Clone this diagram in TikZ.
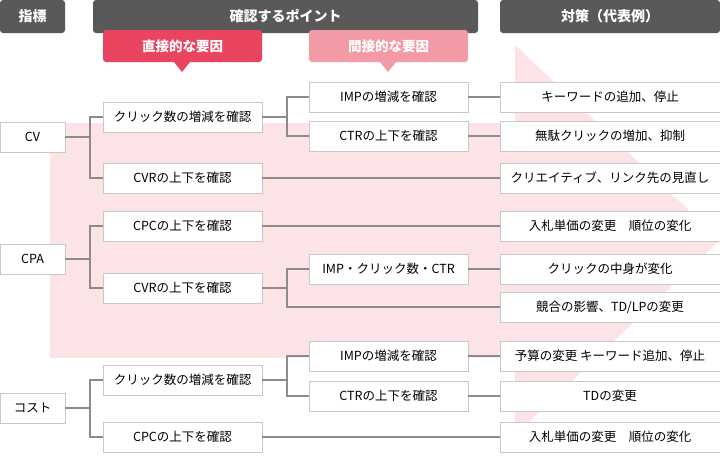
\documentclass[tikz,border=0pt]{standalone}
\usepackage{fontspec}
\setmainfont{Noto Sans CJK JP}
\usetikzlibrary{positioning}
\definecolor{headgray}{HTML}{595959}
\definecolor{directred}{HTML}{E94560}
\definecolor{indirectpink}{HTML}{F29AA5}
\definecolor{bandpink}{HTML}{FBE3E6}
\definecolor{linegray}{HTML}{8C8C8C}
\definecolor{boxline}{HTML}{C8C8C8}

\begin{document}
\begin{tikzpicture}[
  x=1pt, y=-1pt,
  head/.style={fill=headgray, rounded corners=3pt, text=white, font=\bfseries\fontsize{14}{16}\selectfont, inner sep=0pt},
  callout/.style={rounded corners=3pt, text=white, font=\bfseries\fontsize{13.5}{15}\selectfont, inner sep=0pt},
  item/.style={draw=boxline, fill=white, minimum height=30pt, inner sep=0pt, font=\fontsize{12.5}{14}\selectfont},
  keybox/.style={item, minimum width=65pt},
  checkbox/.style={item, minimum width=159pt},
  actbox/.style={item, minimum width=220pt},
  link/.style={draw=linegray, line width=1.2pt}
  ]

  \path[use as bounding box] (0,0) rectangle (720,464);

  % background arrow
  \fill[bandpink] (50,123) rectangle (515,358);
  \fill[bandpink] (515,45) -- (720,240) -- (515,435) -- cycle;

  % headers
  \node[head, minimum width=65pt, minimum height=33pt] (hkey) at (32.5,16.5) {指標};
  \node[head, minimum width=385pt, minimum height=33pt] (hcheck) at (285.5,16.5) {確認するポイント};
  \node[head, minimum width=220pt, minimum height=33pt] (hact) at (610,16.5) {対策（代表例）};

  % callouts
  \fill[directred, rounded corners=3pt] (103,30) rectangle (262,62);
  \fill[directred] (174,62) -- (182,72) -- (190,62) -- cycle;
  \node[callout] (direct) at (182.5,46) {直接的な要因};
  \fill[indirectpink, rounded corners=3pt] (309,30) rectangle (468,62);
  \fill[indirectpink] (380,62) -- (388,72) -- (396,62) -- cycle;
  \node[callout] (indirect) at (388.5,46) {間接的な要因};

  % indicators
  \node[keybox] (cv) at (32.5,137) {CV};
  \node[keybox] (cpa) at (32.5,259) {CPA};
  \node[keybox] (cost) at (32.5,408) {コスト};

  % direct factors
  \node[checkbox] (cvclick) at (182.5,117) {クリック数の増減を確認};
  \node[checkbox] (cvcvr) at (182.5,178) {CVRの上下を確認};
  \node[checkbox] (cpacpc) at (182.5,226) {CPCの上下を確認};
  \node[checkbox] (cpacvr) at (182.5,288) {CVRの上下を確認};
  \node[checkbox] (costclick) at (182.5,380) {クリック数の増減を確認};
  \node[checkbox] (costcpc) at (182.5,437) {CPCの上下を確認};

  % indirect factors
  \node[checkbox] (cvimp) at (388.5,97) {IMPの増減を確認};
  \node[checkbox] (cvctr) at (388.5,136) {CTRの上下を確認};
  \node[checkbox] (cpamix) at (388.5,269) {IMP・クリック数・CTR};
  \node[checkbox] (costimp) at (388.5,356) {IMPの増減を確認};
  \node[checkbox] (costctr) at (388.5,396) {CTRの上下を確認};

  % actions
  \node[actbox] (act1) at (610,97) {キーワードの追加、停止};
  \node[actbox] (act2) at (610,136) {無駄クリックの増加、抑制};
  \node[actbox] (act3) at (610,178) {クリエイティブ、リンク先の見直し};
  \node[actbox] (act4) at (610,226) {入札単価の変更\quad 順位の変化};
  \node[actbox] (act5) at (610,269) {クリックの中身が変化};
  \node[actbox] (act6) at (610,307) {競合の影響、TD/LPの変更};
  \node[actbox] (act7) at (610,356) {予算の変更 キーワード追加、停止};
  \node[actbox] (act8) at (610,396) {TDの変更};
  \node[actbox] (act9) at (610,437) {入札単価の変更\quad 順位の変化};

  % connectors
  \draw[link] (cv.east) -- (90,137);
  \draw[link] (cvclick.west) -| (90,137) |- (cvcvr.west);
  \draw[link] (cpa.east) -- (90,259);
  \draw[link] (cpacpc.west) -| (90,259) |- (cpacvr.west);
  \draw[link] (cost.east) -- (90,408);
  \draw[link] (costclick.west) -| (90,408) |- (costcpc.west);

  \draw[link] (cvclick.east) -- (287,117);
  \draw[link] (cvimp.west) -| (287,117) |- (cvctr.west);
  \draw[link] (cpacvr.east) -- (287,288);
  \draw[link] (cpamix.west) -| (287,288) |- (act6.west);
  \draw[link] (costclick.east) -- (287,380);
  \draw[link] (costimp.west) -| (287,380) |- (costctr.west);

  \draw[link] (cvimp) -- (act1);
  \draw[link] (cvctr) -- (act2);
  \draw[link] (cvcvr) -- (act3);
  \draw[link] (cpacpc) -- (act4);
  \draw[link] (cpamix) -- (act5);
  \draw[link] (costimp) -- (act7);
  \draw[link] (costctr) -- (act8);
  \draw[link] (costcpc) -- (act9);
\end{tikzpicture}
\end{document}
